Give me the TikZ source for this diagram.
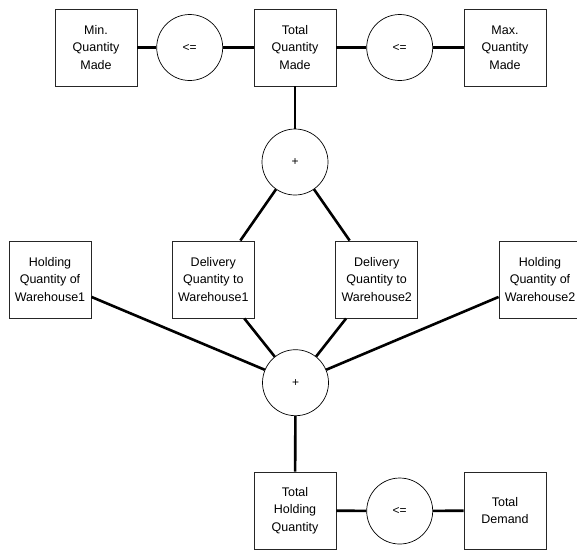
\documentclass[tikz,border=0pt]{standalone}
\usepackage{fontspec}
\setmainfont{Liberation Sans}
\begin{document}
\begin{tikzpicture}[x=1pt,y=-1pt,
  box/.style={draw=black!85,line width=0.9pt,minimum width=82pt,minimum height=77pt,inner sep=0pt,align=center,font=\fontsize{12.5}{17.5}\selectfont},
  op/.style={draw=black,line width=0.7pt,circle,minimum size=66pt,inner sep=0pt,font=\fontsize{12}{14}\selectfont},
  conn/.style={line width=2.6pt,line cap=butt}]
\useasboundingbox (0,0) rectangle (577,550);
\clip (0,0) rectangle (577,550);
\node[box] (min) at (96,47.5) {Min.\\Quantity\\Made};
\node[op] (le1) at (189.7,47.5) {<=};
\node[box] (tot) at (295,47.5) {Total\\Quantity\\Made};
\node[op] (le2) at (399.7,47.5) {<=};
\node[box] (max) at (505,47.5) {Max.\\Quantity\\Made};
\node[op] (plus1) at (295,162) {+};
\node[box] (h1) at (50,279.5) {Holding\\Quantity of\\Warehouse1};
\node[box] (d1) at (213.3,279.5) {Delivery\\Quantity to\\Warehouse1};
\node[box] (d2) at (376.7,279.5) {Delivery\\Quantity to\\Warehouse2};
\node[box] (h2) at (540,279.5) {Holding\\Quantity of\\Warehouse2};
\node[op] (plus2) at (295.5,382.7) {+};
\node[box] (th) at (295,510.5) {Total\\Holding\\Quantity};
\node[op] (le3) at (399.7,511) {<=};
\node[box] (dem) at (505,510.5) {Total\\Demand};
\draw[conn] (min) -- (le1);
\draw[conn] (le1) -- (tot);
\draw[conn] (tot) -- (le2);
\draw[conn] (le2) -- (max);
\draw[conn] (tot) -- (plus1);
\draw[conn] (plus1) -- (d1);
\draw[conn] (plus1) -- (d2);
\draw[conn] (h1) -- (plus2);
\draw[conn] (d1) -- (plus2);
\draw[conn] (d2) -- (plus2);
\draw[conn] (h2) -- (plus2);
\draw[conn] (plus2) -- (th);
\draw[conn] (th) -- (le3);
\draw[conn] (le3) -- (dem);
\end{tikzpicture}
\end{document}
